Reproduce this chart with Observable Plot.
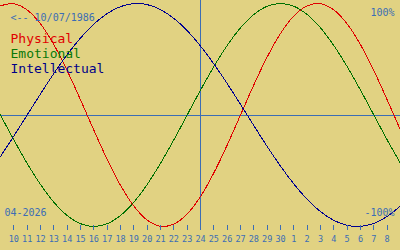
<!DOCTYPE html>
<html><head><meta charset="utf-8">
<script src="https://cdn.jsdelivr.net/npm/d3@7"></script>
<script src="https://cdn.jsdelivr.net/npm/@observablehq/plot@0.6"></script>
<style>
html,body{margin:0;padding:0;background:#e1d282;}
svg{display:block}
</style></head><body><div id="chart"></div>
<script>
// ---- data ----
const startDate = "2026-04-09";
const endDate = "2026-05-09";
const todayDate = "2026-04-24";
const birthLabel = "<-- 10/07/1986";
const monthLabel = "04-2026";
const topLabel = "100%";
const bottomLabel = "-100%";
const seriesNames = ["Physical", "Emotional", "Intellectual"];
const seriesColors = ["#e00000", "#007000", "#000090"];
const textColors = ["#e00000", "#087808", "#000088"];
// daily values (%) from Apr 9 to May 9
const physical = [97.9, 99.8, 94.2, 81.7, 63.1, 39.8, 13.6, -13.6, -39.8, -63.1, -81.7, -94.2, -99.8, -97.9, -88.8, -73.1, -52.0, -27.0, 0, 27.0, 52.0, 73.1, 88.8, 97.9, 99.8, 94.2, 81.7, 63.1, 39.8, 13.6, -13.6];
const emotional = [0, -22.3, -43.4, -62.3, -78.2, -90.1, -97.5, -100, -97.5, -90.1, -78.2, -62.3, -43.4, -22.3, 0, 22.3, 43.4, 62.3, 78.2, 90.1, 97.5, 100, 97.5, 90.1, 78.2, 62.3, 43.4, 22.3, 0, -22.3, -43.4];
const intellectual = [-37.2, -18.9, 0, 18.9, 37.2, 54.1, 69.0, 81.5, 91.0, 97.2, 99.9, 99.0, 94.5, 86.6, 75.6, 61.8, 45.8, 28.2, 9.5, -9.5, -28.2, -45.8, -61.8, -75.6, -86.6, -94.5, -99.0, -99.9, -97.2, -91.0, -81.5];
const tickLabels = [10, 11, 12, 13, 14, 15, 16, 17, 18, 19, 20, 21, 22, 23, 24, 25, 26, 27, 28, 29, 30, 1, 2, 3, 4, 5, 6, 7, 8];

// ---- build ----
const blue = "#3b6db5";
const day0 = new Date(startDate + "T00:00:00Z");
const dates = physical.map((_, i) => new Date(+day0 + i * 864e5));
const series = [physical, emotional, intellectual];
const rows = seriesNames.flatMap((name, s) => series[s].map((v, i) => ({date: dates[i], value: v, name})));
const tickDates = tickLabels.map((_, i) => dates[i + 1]);
const labelMap = new Map(tickDates.map((d, i) => [+d, tickLabels[i]]));

const marks = [
  Plot.ruleY([0], {stroke: blue, shapeRendering: "crispEdges"}),
  Plot.ruleX([new Date(todayDate + "T00:00:00Z")], {stroke: blue, shapeRendering: "crispEdges"}),
  Plot.lineY(rows, {x: "date", y: "value", z: "name", stroke: "name", curve: "catmull-rom", strokeWidth: 1, shapeRendering: "crispEdges"}),
  Plot.axisX(tickDates, {anchor: "bottom", tickSize: 5, tickPadding: 5, dy: -5, stroke: blue, fill: blue, fontSize: 8.5, tickFormat: d => labelMap.get(+d), label: null, shapeRendering: "crispEdges"}),
  Plot.text([birthLabel], {text: d => d, frameAnchor: "top-left", dx: 10, dy: 20.5, textAnchor: "start", lineAnchor: "bottom", fill: blue, fontSize: 10}),
  Plot.text([topLabel], {text: d => d, frameAnchor: "top-right", dx: -6, dy: 15.5, textAnchor: "end", lineAnchor: "bottom", fill: blue, fontSize: 10}),
  Plot.text([monthLabel], {text: d => d, frameAnchor: "top-left", dx: 4, dy: 215.5, textAnchor: "start", lineAnchor: "bottom", fill: blue, fontSize: 10}),
  Plot.text([bottomLabel], {text: d => d, frameAnchor: "top-right", dx: -6, dy: 215.5, textAnchor: "end", lineAnchor: "bottom", fill: blue, fontSize: 10}),
  ...seriesNames.map((name, s) => Plot.text([name], {text: d => d, frameAnchor: "top-left", dx: 10, dy: 42.5 + 15 * s, textAnchor: "start", lineAnchor: "bottom", fill: textColors[s], fontSize: 13}))
];

const chart = Plot.plot({
  width: 400, height: 250,
  marginTop: 0, marginRight: 0, marginBottom: 20, marginLeft: 0,
  style: {background: "#e1d282", fontFamily: "'DejaVu Sans Mono', monospace", overflow: "visible"},
  x: {type: "utc", domain: [day0, new Date(endDate + "T00:00:00Z")], range: [0, 400], axis: null},
  y: {domain: [-100, 100], range: [226, 3], axis: null},
  color: {domain: seriesNames, range: seriesColors},
  marks
});
document.getElementById("chart").appendChild(chart);
</script></body></html>
